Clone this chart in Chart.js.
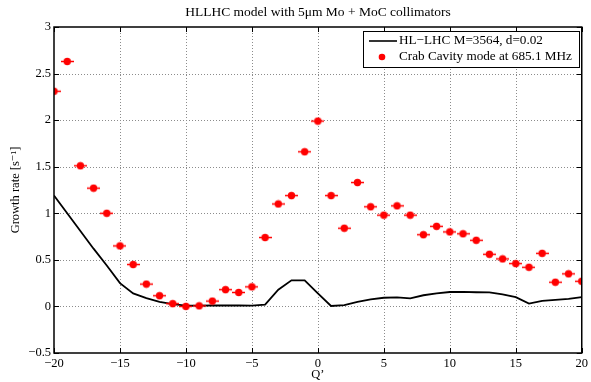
<!DOCTYPE html>
<html>
<head>
<meta charset="utf-8">
<script src="https://cdn.jsdelivr.net/npm/chart.js@4/dist/chart.umd.min.js"></script>
<style>
  html, body { margin: 0; padding: 0; background: #fff; }
  #wrap { width: 591px; height: 382px; }
</style>
</head>
<body>
<div id="wrap"><canvas id="growthChart" width="591" height="382"></canvas></div>
<script>
// Q' values (chromaticity)
var qPrime = [-20, -19, -18, -17, -16, -15, -14, -13, -12, -11, -10, -9, -8, -7, -6, -5, -4, -3, -2, -1,
  0, 1, 2, 3, 4, 5, 6, 7, 8, 9, 10, 11, 12, 13, 14, 15, 16, 17, 18, 19, 20];
// crab cavity mode growth rate [1/s]
var crabRates = [2.31, 2.63, 1.51, 1.27, 1.00, 0.65, 0.45, 0.24, 0.115, 0.03, 0.0, 0.006, 0.057, 0.18, 0.15, 0.21, 0.74, 1.10, 1.19, 1.66,
  1.99, 1.19, 0.84, 1.33, 1.07, 0.98, 1.08, 0.98, 0.77, 0.86, 0.80, 0.78, 0.71, 0.56, 0.51, 0.46, 0.42, 0.57, 0.26, 0.35, 0.27];
// HL-LHC model, M=3564, d=0.02
var hlLhcRates = [1.19, 1.00, 0.81, 0.62, 0.44, 0.25, 0.14, 0.09, 0.05, 0.025, 0.008, 0.008, 0.01, 0.01, 0.01, 0.008, 0.02, 0.18, 0.28, 0.28,
  0.14, 0.005, 0.015, 0.05, 0.075, 0.093, 0.097, 0.086, 0.12, 0.14, 0.155, 0.157, 0.152, 0.15, 0.13, 0.10, 0.03, 0.06, 0.07, 0.08, 0.10];
var xTicks = [-20, -15, -10, -5, 0, 5, 10, 15, 20];
var yTicks = [-0.5, 0, 0.5, 1, 1.5, 2, 2.5, 3];

var FONT = "'Liberation Serif', 'DejaVu Serif', serif";

// red dot with a small horizontal error bar
var dot = document.createElement('canvas');
dot.width = 13; dot.height = 9;
var dctx = dot.getContext('2d');
dctx.strokeStyle = '#ff0000';
dctx.lineWidth = 1.5;
dctx.beginPath(); dctx.moveTo(0, 4.5); dctx.lineTo(13, 4.5); dctx.stroke();
dctx.fillStyle = '#ff0000';
dctx.beginPath(); dctx.arc(6.5, 4.5, 3.7, 0, Math.PI * 2); dctx.fill();

function minus(v) { return String(v).replace('-', '\u2212'); }

var framePlugin = {
  id: 'frame',
  beforeDatasetsDraw: function (chart) {
    // dotted matlab-like grid
    var ctx = chart.ctx, a = chart.chartArea;
    var xs = chart.scales.x, ys = chart.scales.y;
    ctx.save();
    ctx.strokeStyle = '#8c8c8c';
    ctx.lineWidth = 1;
    ctx.setLineDash([1, 2]);
    ctx.beginPath();
    xTicks.forEach(function (t) {
      if (t === xs.min || t === xs.max) return;
      var px = Math.round(xs.getPixelForValue(t)) + 0.5;
      ctx.moveTo(px, a.top); ctx.lineTo(px, a.bottom);
    });
    yTicks.forEach(function (t) {
      if (t === ys.min || t === ys.max) return;
      var py = Math.round(ys.getPixelForValue(t)) + 0.5;
      ctx.moveTo(a.left, py); ctx.lineTo(a.right, py);
    });
    ctx.stroke();
    ctx.restore();
  },
  afterDatasetsDraw: function (chart) {
    var ctx = chart.ctx, a = chart.chartArea;
    var xs = chart.scales.x, ys = chart.scales.y;
    ctx.save();
    ctx.strokeStyle = '#000';
    ctx.lineWidth = 1;
    // inward tick marks
    ctx.beginPath();
    xTicks.forEach(function (t) {
      var px = Math.round(xs.getPixelForValue(t)) + 0.5;
      ctx.moveTo(px, a.bottom); ctx.lineTo(px, a.bottom - 5);
      ctx.moveTo(px, a.top); ctx.lineTo(px, a.top + 5);
    });
    yTicks.forEach(function (t) {
      var py = Math.round(ys.getPixelForValue(t)) + 0.5;
      ctx.moveTo(a.left, py); ctx.lineTo(a.left + 5, py);
      ctx.moveTo(a.right, py); ctx.lineTo(a.right - 5, py);
    });
    ctx.stroke();
    ctx.lineWidth = 1.5;
    ctx.strokeRect(a.left, a.top, a.right - a.left, a.bottom - a.top);

    // legend box
    var bx = 363, by = 31, bw = 216, bh = 36;
    ctx.fillStyle = '#fff';
    ctx.fillRect(bx, by, bw, bh);
    ctx.lineWidth = 1;
    ctx.strokeRect(bx + 0.5, by + 0.5, bw, bh);
    ctx.strokeStyle = '#000';
    ctx.lineWidth = 1.6;
    ctx.beginPath(); ctx.moveTo(369, 41); ctx.lineTo(397, 41); ctx.stroke();
    ctx.fillStyle = '#ff0000';
    ctx.beginPath(); ctx.arc(382, 57, 3.3, 0, Math.PI * 2); ctx.fill();
    ctx.fillStyle = '#000';
    ctx.font = '13.2px ' + FONT;
    ctx.textBaseline = 'middle';
    ctx.textAlign = 'left';
    ctx.fillText('HL\u2212LHC M=3564, d=0.02', 399, 41);
    ctx.fillText('Crab Cavity mode at 685.1 MHz', 399, 57);

    // title
    ctx.font = '13.5px ' + FONT;
    ctx.textAlign = 'center';
    ctx.textBaseline = 'middle';
    ctx.fillText('HLLHC model with 5\u03bcm Mo + MoC collimators', 318, 12);
    ctx.restore();
  }
};

var ctx = document.getElementById('growthChart').getContext('2d');
var growthChart = new Chart(ctx, {
  type: 'scatter',
  data: {
    datasets: [{
      label: 'HL\u2212LHC M=3564, d=0.02',
      type: 'line',
      data: qPrime.map(function (q, i) { return { x: q, y: hlLhcRates[i] }; }),
      borderColor: '#000',
      borderWidth: 1.8,
      pointRadius: 0,
      tension: 0,
      fill: false,
      order: 2
    }, {
      label: 'Crab Cavity mode at 685.1 MHz',
      data: qPrime.map(function (q, i) { return { x: q, y: crabRates[i] }; }),
      pointStyle: dot,
      pointRadius: 4,
      order: 1
    }]
  },
  options: {
    responsive: false,
    animation: false,
    layout: { padding: { top: 27, right: 8, left: 0, bottom: 0 } },
    plugins: {
      legend: { display: false },
      title: { display: false },
      tooltip: { enabled: false }
    },
    scales: {
      x: {
        type: 'linear',
        min: -20, max: 20,
        afterBuildTicks: function (s) { s.ticks = xTicks.map(function (v) { return { value: v }; }); },
        afterFit: function (s) { s.height = 29; },
        grid: { display: false, drawTicks: false, tickLength: 0 },
        border: { display: false },
        ticks: {
          color: '#000', padding: 3,
          font: { family: FONT, size: 12.5 },
          maxRotation: 0,
          callback: function (v) { return minus(v); }
        },
        title: {
          display: true, text: 'Q\u2019', color: '#000',
          font: { family: FONT, size: 12.5 }, padding: { top: -1, bottom: 0 }
        }
      },
      y: {
        min: -0.5, max: 3,
        afterBuildTicks: function (s) { s.ticks = yTicks.map(function (v) { return { value: v }; }); },
        afterFit: function (s) { s.width = 54; },
        grid: { display: false, drawTicks: false, tickLength: 0 },
        border: { display: false },
        ticks: {
          color: '#000', padding: 3,
          font: { family: FONT, size: 12.5 },
          callback: function (v) { return minus(v); }
        },
        title: {
          display: true, text: 'Growth rate [s\u207b\u00b9]', color: '#000',
          font: { family: FONT, size: 12.5 }, padding: { top: 8, bottom: 0 }
        }
      }
    }
  },
  plugins: [framePlugin]
});
</script>
</body>
</html>
